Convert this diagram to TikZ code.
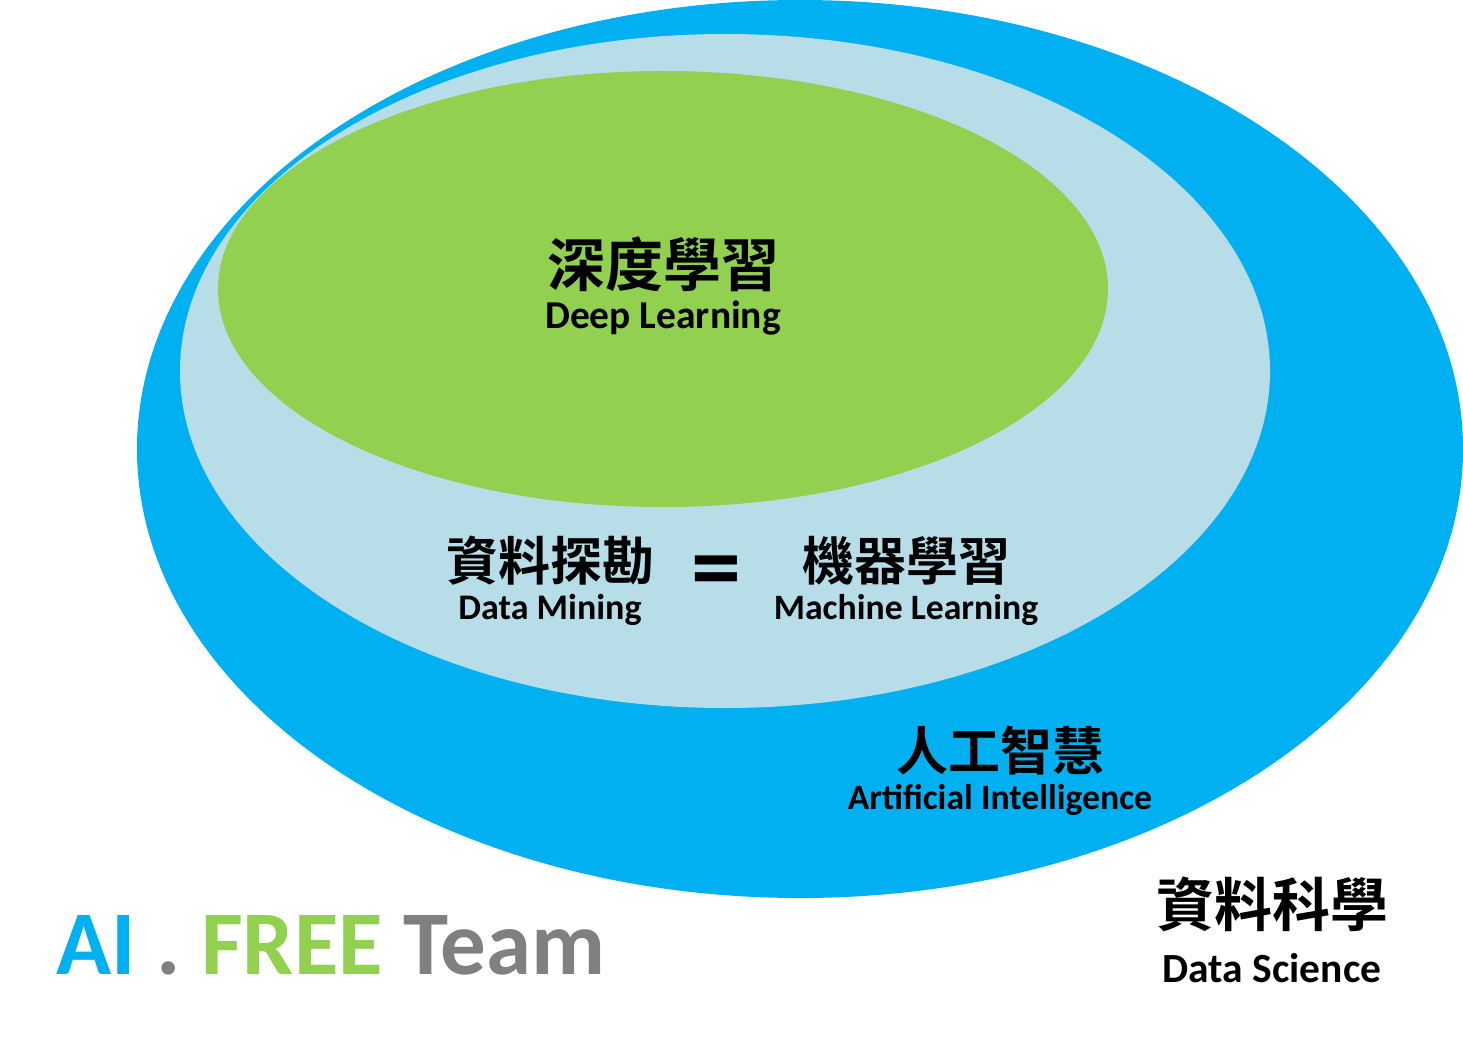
\documentclass[tikz,border=0pt]{standalone}
\usepackage{fontspec}
\setmainfont{Carlito}
\newfontfamily\cjk{Noto Sans CJK TC}[BoldFont={* Bold}]
\definecolor{dsblue}{HTML}{00B0F0}
\definecolor{mllight}{HTML}{B7DDE8}
\definecolor{dlgreen}{HTML}{92D050}
\definecolor{teamgray}{HTML}{808080}
\tikzset{
  zh/.style={inner sep=0pt, font=\cjk\bfseries\fontsize{#1}{#1}\selectfont},
  en/.style={inner sep=0pt, font=\bfseries\fontsize{#1}{#1}\selectfont},
}
\begin{document}
\begin{tikzpicture}[x=1pt,y=-1pt]
\useasboundingbox (0,0) rectangle (1463,1051);
\clip (0,0) rectangle (1463,1051);
\fill[white] (0,0) rectangle (1463,1051);
\fill[dsblue] (800,449) ellipse [x radius=663, y radius=449];
\fill[mllight] (725,371) ellipse [x radius=545, y radius=337];
\fill[dlgreen] (663,289) ellipse [x radius=445, y radius=218];

\node[zh=58] (dlzh) at (663,264) {深度學習};
\node[en=39.5] (dlen) at (663,318) {Deep Learning};

\node[zh=52] (dmzh) at (550,561) {資料探勘};
\node[en=36] (dmen) at (550,610) {Data Mining};
\node[en=100] (eq) at (716,578) {=};
\node[zh=52] (mlzh) at (906,561) {機器學習};
\node[en=35.7] (mlen) at (906,610) {Machine Learning};

\node[zh=52] (aizh) at (1000,751) {人工智慧};
\node[en=35.7] (aien) at (1000,800) {Artificial Intelligence};

\node[zh=58] (dszh) at (1272,904) {資料科學};
\node[en=41.5] (dsen) at (1272,968) {Data Science};

\node[en=91, anchor=west] (team) at (56,945) {\textcolor{dsblue}{AI} \textcolor{teamgray}{.} \textcolor{dlgreen}{FREE} \textcolor{teamgray}{Team}};
\end{tikzpicture}
\end{document}
